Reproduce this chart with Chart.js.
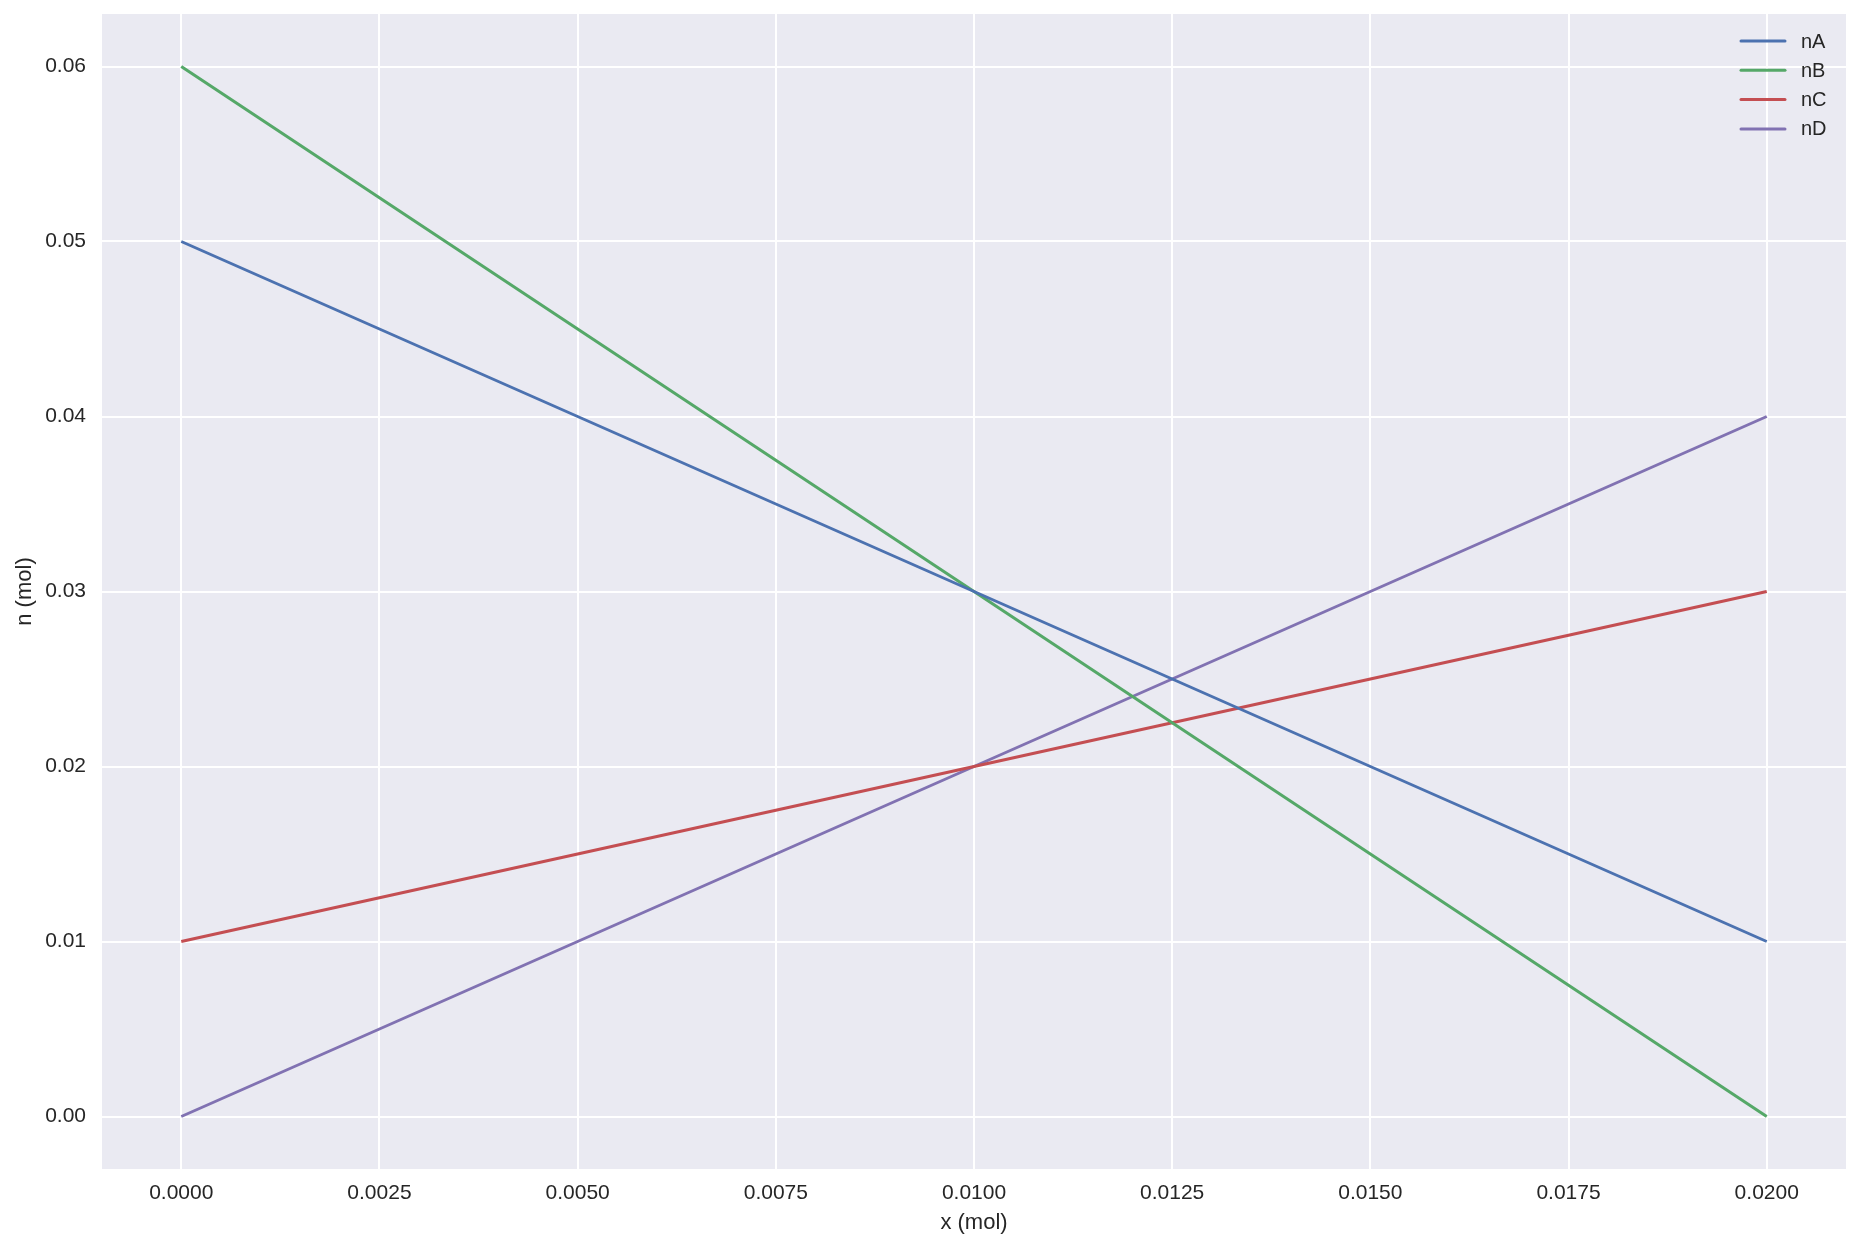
<!DOCTYPE html>
<html>
<head>
<meta charset="utf-8">
<script src="https://cdn.jsdelivr.net/npm/chart.js@4/dist/chart.umd.min.js"></script>
<style>
  html, body { margin: 0; padding: 0; background: #fff; }
  #wrap { width: 1860px; height: 1249px; }
</style>
</head>
<body>
<div id="wrap"><canvas id="grafico" width="1860" height="1249"></canvas></div>
<script>
// valores
const xVals = [0, 0.0025, 0.005, 0.0075, 0.01, 0.0125, 0.015, 0.0175, 0.02];
const nA = [0.05, 0.045, 0.04, 0.035, 0.03, 0.025, 0.02, 0.015, 0.01];
const nB = [0.06, 0.0525, 0.045, 0.0375, 0.03, 0.0225, 0.015, 0.0075, 0];
const nC = [0.01, 0.0125, 0.015, 0.0175, 0.02, 0.0225, 0.025, 0.0275, 0.03];
const nD = [0, 0.005, 0.01, 0.015, 0.02, 0.025, 0.03, 0.035, 0.04];
const seriesNames = ["nA", "nB", "nC", "nD"];
const seriesColors = ["#4C72B0", "#55A868", "#C44E52", "#8172B2"];
const xTicks = [0, 0.0025, 0.005, 0.0075, 0.01, 0.0125, 0.015, 0.0175, 0.02];
const yTicks = [0, 0.01, 0.02, 0.03, 0.04, 0.05, 0.06];

const toPts = arr => arr.map((v, i) => ({ x: xVals[i], y: v }));
const allSeries = [nA, nB, nC, nD];

const fonte = "'Liberation Sans', Arial, sans-serif";
Chart.defaults.font.family = fonte;
Chart.defaults.color = "#262626";

// fundo cinza da área do gráfico
const fundo = {
  id: "fundo",
  beforeDraw(chart) {
    const a = chart.chartArea, ctx = chart.ctx;
    ctx.save();
    ctx.fillStyle = "#EAEAF2";
    ctx.fillRect(a.left, a.top, a.right - a.left, a.bottom - a.top);
    ctx.restore();
  }
};

// legenda dentro do gráfico, canto superior direito
const legenda = {
  id: "legenda",
  afterDraw(chart) {
    const ctx = chart.ctx;
    ctx.save();
    ctx.font = "20px " + fonte;
    ctx.textBaseline = "middle";
    ctx.textAlign = "left";
    chart.data.datasets.forEach((ds, i) => {
      const y = 41 + i * 29.3;
      ctx.strokeStyle = ds.borderColor;
      ctx.lineWidth = 3;
      ctx.lineCap = "round";
      ctx.beginPath();
      ctx.moveTo(1741, y);
      ctx.lineTo(1785, y);
      ctx.stroke();
      ctx.fillStyle = "#262626";
      ctx.fillText(ds.label, 1801, y + 1);
    });
    ctx.restore();
  }
};

const semPadding = s => { s.paddingTop = 0; s.paddingBottom = 0; s.paddingLeft = 0; s.paddingRight = 0; };

new Chart(document.getElementById("grafico"), {
  type: "line",
  data: {
    datasets: allSeries.map((s, i) => ({
      label: seriesNames[i],
      data: toPts(s),
      borderColor: seriesColors[i],
      backgroundColor: seriesColors[i],
      borderWidth: 3,
      pointRadius: 0,
      tension: 0
    }))
  },
  options: {
    responsive: false,
    animation: false,
    layout: { padding: { left: 0, top: 14, right: 14, bottom: 0 } },
    plugins: {
      legend: { display: false },
      tooltip: { enabled: false }
    },
    scales: {
      x: {
        type: "linear",
        min: -0.001,
        max: 0.021,
        afterBuildTicks: s => { s.ticks = xTicks.map(v => ({ value: v })); },
        afterFit: s => { s.height = 80; semPadding(s); },
        grid: { color: "#ffffff", lineWidth: 2, drawTicks: false },
        border: { display: false },
        ticks: {
          padding: 12,
          font: { size: 21 },
          callback: v => v.toFixed(4)
        },
        title: {
          display: true,
          text: "x (mol)",
          font: { size: 22 },
          padding: { top: 0, bottom: 13 }
        }
      },
      y: {
        type: "linear",
        min: -0.003,
        max: 0.063,
        afterBuildTicks: s => { s.ticks = yTicks.map(v => ({ value: v })); },
        afterFit: s => { s.width = 102; semPadding(s); },
        grid: { color: "#ffffff", lineWidth: 2, drawTicks: false },
        border: { display: false },
        ticks: {
          padding: 16,
          font: { size: 21 },
          callback: v => v.toFixed(2)
        },
        title: {
          display: true,
          text: "n (mol)",
          font: { size: 22 },
          padding: { top: 12, bottom: 0 }
        }
      }
    }
  },
  plugins: [fundo, legenda]
});
</script>
</body>
</html>
